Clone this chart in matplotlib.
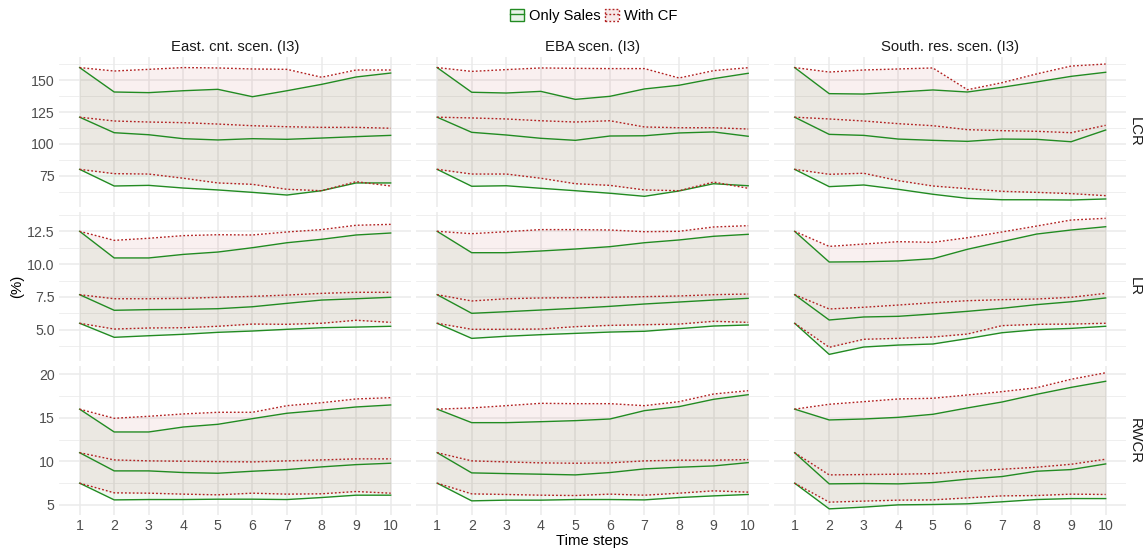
import matplotlib
matplotlib.use('Agg')
import matplotlib.pyplot as plt
from matplotlib.lines import Line2D
from matplotlib.patches import Patch

plt.rcParams['font.family'] = ['Liberation Sans', 'DejaVu Sans']

steps = list(range(1, 11))
scenarios = ['East. cnt. scen. (I3)', 'EBA scen. (I3)', 'South. res. scen. (I3)']
ratios = ['LCR', 'LR', 'RWCR']

# each block: [lower, middle, upper] per time step
lcr_east_sales = [[80, 66.9, 67.4, 65.3, 63.8, 61.9, 59.8, 63.2, 69.3, 69.3],
                  [121, 108.8, 107.2, 104.1, 103.1, 104.1, 103.6, 104.6, 105.7, 106.7],
                  [160, 140.8, 140.3, 141.8, 142.9, 137.1, 141.8, 146.8, 152.6, 155.7]]
lcr_east_cf = [[80, 76.6, 76.3, 73, 69.3, 68.2, 64.3, 63.2, 70.3, 66.9],
               [121, 118, 117.2, 116.7, 115.6, 114.3, 113.5, 113, 113, 112.3],
               [160, 157.3, 158.6, 160, 159.7, 158.9, 158.6, 152.4, 158.1, 158.1]]
lcr_eba_sales = [[80, 66.7, 67.1, 65.1, 63.2, 61.2, 58.8, 63, 68.7, 67.1],
                 [121, 109.1, 107, 104.4, 102.8, 106.2, 106.4, 108.6, 109.4, 106],
                 [160, 140.6, 140, 141.3, 135, 137.4, 143.2, 146.1, 151.3, 155.5]]
lcr_eba_cf = [[80, 76.3, 76.3, 73, 68.7, 67.4, 63.8, 63.2, 70, 65.1],
              [121, 120.4, 119.6, 118.2, 117.2, 118.2, 113.3, 112.7, 112.7, 111.7],
              [160, 157, 158.4, 159.7, 159.4, 159.2, 159.2, 151.8, 157.6, 159.9]]
lcr_south_sales = [[80, 66.4, 67.7, 64.3, 60.4, 57.2, 56.1, 56.1, 55.9, 56.7],
                   [121, 107.5, 106.7, 103.8, 102.8, 102, 103.8, 103.6, 101.7, 110.9],
                   [160, 139.5, 139.2, 140.8, 142.4, 140.8, 144.5, 148.7, 153.1, 156.3]]
lcr_south_cf = [[80, 76.1, 76.9, 71.1, 66.9, 64.8, 62.7, 61.9, 60.9, 59.3],
                [121, 119.6, 118, 115.9, 114.3, 111.2, 110.4, 109.9, 108.8, 114.6],
                [160, 156.5, 158.1, 158.9, 159.7, 142.6, 148.1, 155, 161.2, 162.8]]

lr_east_sales = [[5.49, 4.42, 4.54, 4.65, 4.8, 4.9, 5.03, 5.15, 5.2, 5.26],
                 [7.67, 6.48, 6.53, 6.55, 6.6, 6.75, 7.01, 7.26, 7.36, 7.47],
                 [12.5, 10.47, 10.47, 10.74, 10.92, 11.25, 11.63, 11.89, 12.22, 12.37]]
lr_east_cf = [[5.49, 5.05, 5.13, 5.15, 5.26, 5.43, 5.41, 5.49, 5.72, 5.56],
              [7.67, 7.36, 7.36, 7.39, 7.47, 7.54, 7.64, 7.77, 7.85, 7.85],
              [12.5, 11.81, 11.97, 12.17, 12.24, 12.22, 12.45, 12.63, 12.96, 13.03]]
lr_eba_sales = [[5.49, 4.34, 4.5, 4.62, 4.72, 4.82, 4.88, 5.08, 5.28, 5.36],
                [7.67, 6.25, 6.37, 6.5, 6.63, 6.78, 6.96, 7.11, 7.26, 7.39],
                [12.5, 10.87, 10.87, 11.0, 11.15, 11.33, 11.63, 11.84, 12.12, 12.27]]
lr_eba_cf = [[5.49, 5.03, 5.03, 5.05, 5.23, 5.33, 5.38, 5.43, 5.64, 5.56],
             [7.67, 7.19, 7.36, 7.42, 7.44, 7.47, 7.52, 7.57, 7.67, 7.72],
             [12.5, 12.32, 12.47, 12.63, 12.63, 12.6, 12.47, 12.5, 12.83, 12.93]]
lr_south_sales = [[5.49, 3.12, 3.68, 3.83, 3.91, 4.32, 4.77, 5.0, 5.1, 5.26],
                  [7.67, 5.74, 5.97, 6.02, 6.2, 6.4, 6.63, 6.91, 7.13, 7.42],
                  [12.5, 10.16, 10.18, 10.24, 10.41, 11.13, 11.71, 12.29, 12.6, 12.85]]
lr_south_cf = [[5.49, 3.66, 4.27, 4.34, 4.44, 4.67, 5.31, 5.41, 5.43, 5.49],
               [7.67, 6.58, 6.71, 6.88, 7.06, 7.21, 7.29, 7.34, 7.47, 7.77],
               [12.5, 11.35, 11.53, 11.71, 11.66, 12.01, 12.45, 12.9, 13.36, 13.49]]

rwcr_east_sales = [[7.5, 5.58, 5.62, 5.62, 5.66, 5.66, 5.62, 5.85, 6.12, 6.12],
                   [11, 8.91, 8.91, 8.72, 8.64, 8.87, 9.06, 9.37, 9.63, 9.79],
                   [16, 13.38, 13.38, 13.95, 14.26, 14.91, 15.53, 15.87, 16.25, 16.48]]
rwcr_east_cf = [[7.5, 6.39, 6.35, 6.24, 6.16, 6.35, 6.24, 6.28, 6.54, 6.35],
                [11, 10.17, 10.06, 10.02, 9.98, 9.94, 10.06, 10.17, 10.29, 10.29],
                [16, 14.95, 15.18, 15.45, 15.64, 15.64, 16.4, 16.74, 17.17, 17.32]]
rwcr_eba_sales = [[7.5, 5.47, 5.55, 5.55, 5.62, 5.62, 5.58, 5.85, 6.04, 6.2],
                  [11, 8.68, 8.6, 8.53, 8.45, 8.72, 9.14, 9.33, 9.48, 9.86],
                  [16, 14.45, 14.45, 14.56, 14.68, 14.87, 15.83, 16.29, 17.13, 17.66]]
rwcr_eba_cf = [[7.5, 6.27, 6.2, 6.12, 6.08, 6.24, 6.12, 6.35, 6.62, 6.47],
               [11, 10.06, 9.94, 9.83, 9.79, 9.83, 10.06, 10.14, 10.14, 10.21],
               [16, 16.14, 16.4, 16.67, 16.63, 16.63, 16.4, 16.86, 17.74, 18.12]]
rwcr_south_sales = [[7.5, 4.55, 4.75, 5.01, 5.05, 5.13, 5.36, 5.62, 5.73, 5.73],
                    [11, 7.42, 7.46, 7.42, 7.57, 7.96, 8.26, 8.87, 9.06, 9.71],
                    [16, 14.76, 14.87, 15.06, 15.41, 16.14, 16.82, 17.7, 18.5, 19.2]]
rwcr_south_cf = [[7.5, 5.32, 5.44, 5.55, 5.58, 5.81, 6.04, 6.08, 6.24, 6.2],
                 [11, 8.45, 8.49, 8.53, 8.6, 8.87, 9.1, 9.33, 9.67, 10.25],
                 [16, 16.56, 16.86, 17.17, 17.25, 17.63, 18.01, 18.46, 19.43, 20.18]]

panels = [[(lcr_east_sales, lcr_east_cf), (lcr_eba_sales, lcr_eba_cf), (lcr_south_sales, lcr_south_cf)],
          [(lr_east_sales, lr_east_cf), (lr_eba_sales, lr_eba_cf), (lr_south_sales, lr_south_cf)],
          [(rwcr_east_sales, rwcr_east_cf), (rwcr_eba_sales, rwcr_eba_cf), (rwcr_south_sales, rwcr_south_cf)]]

y_ticks = [[75, 100, 125, 150], [5.0, 7.5, 10.0, 12.5], [5, 10, 15, 20]]
y_minor = [[62.5, 87.5, 112.5, 137.5, 162.5], [3.75, 6.25, 8.75, 11.25, 13.75], [7.5, 12.5, 17.5]]
y_labels = [['75', '100', '125', '150'], ['5.0', '7.5', '10.0', '12.5'], ['5', '10', '15', '20']]
y_lims = [(50.47, 168.08), (2.607, 14.01), (3.81, 20.99)]

GREEN = '#228B22'
RED = '#B22222'
GRID = '#EBEBEB'
DOT = (0, (1.3, 1.5))

W, H = 1148, 549
fig = plt.figure(figsize=(W / 100, H / 100), dpi=100)

col_left = [58.9, 416.4, 773.9]
row_top = [57.3, 211.5, 365.7]
pw, ph = 352.5, 149.6

for r in range(3):
    for c in range(3):
        ax = fig.add_axes([col_left[c] / W, 1 - (row_top[r] + ph) / H, pw / W, ph / H])
        sales, cf = panels[r][c]
        ax.set_axisbelow(True)
        for s in ax.spines.values():
            s.set_visible(False)

        ax.fill_between(steps, sales[0], sales[2], color=GREEN, alpha=0.065, lw=0)
        ax.fill_between(steps, cf[0], cf[2], color=RED, alpha=0.065, lw=0)
        for k in range(3):
            ax.plot(steps, sales[k], color=GREEN, lw=1.0)
            ax.plot(steps, cf[k], color=RED, lw=1.0, ls=DOT)

        ax.set_xlim(0.4, 10.6)
        ax.set_ylim(*y_lims[r])
        ax.set_xticks(steps)
        ax.set_yticks(y_ticks[r])
        ax.set_yticks(y_minor[r], minor=True)
        ax.grid(True, which='major', color=GRID, lw=1.1)
        ax.grid(True, which='minor', axis='y', color=GRID, lw=0.55)
        ax.tick_params(which='both', length=0, labelsize=10.2, labelcolor='#4D4D4D', pad=3.0)
        if c == 0:
            ax.set_yticklabels(y_labels[r])
        else:
            ax.set_yticklabels([])
        if r < 2:
            ax.set_xticklabels([])
        if r == 0:
            ax.text(0.5, 1 + 10.3 / ph, scenarios[c], transform=ax.transAxes,
                    ha='center', va='center', fontsize=10.7, color='#1A1A1A')
        if c == 2:
            ax.text(1 + 8.5 / pw, 0.5, ratios[r], transform=ax.transAxes, rotation=-90,
                    ha='center', va='center', fontsize=10.7, color='#1A1A1A')

fig.text(17.5 / W, 1 - 286.3 / H, '(%)', rotation=90, ha='center', va='center', fontsize=10.7)
fig.text(592.6 / W, 1 - 541.5 / H, 'Time steps', ha='center', va='center', fontsize=10.7)

h_sales = (Patch(facecolor=GREEN, alpha=0.1, edgecolor='none'),
           Patch(facecolor='none', edgecolor=GREEN, lw=1.0),
           Line2D([], [], color=GREEN, lw=1.0))
h_cf = (Patch(facecolor=RED, alpha=0.1, edgecolor='none'),
        Patch(facecolor='none', edgecolor=RED, lw=1.0, ls=DOT),
        Line2D([], [], color=RED, lw=1.0, ls=DOT))
fig.legend([h_sales, h_cf], ['Only Sales', 'With CF'], loc='center',
           bbox_to_anchor=(594 / W, 1 - 16 / H), ncol=2, frameon=False,
           fontsize=10.6, handlelength=0.95, handleheight=0.95,
           handletextpad=0.35, columnspacing=0.3, borderpad=0)

fig.savefig('out.png', dpi=100)
